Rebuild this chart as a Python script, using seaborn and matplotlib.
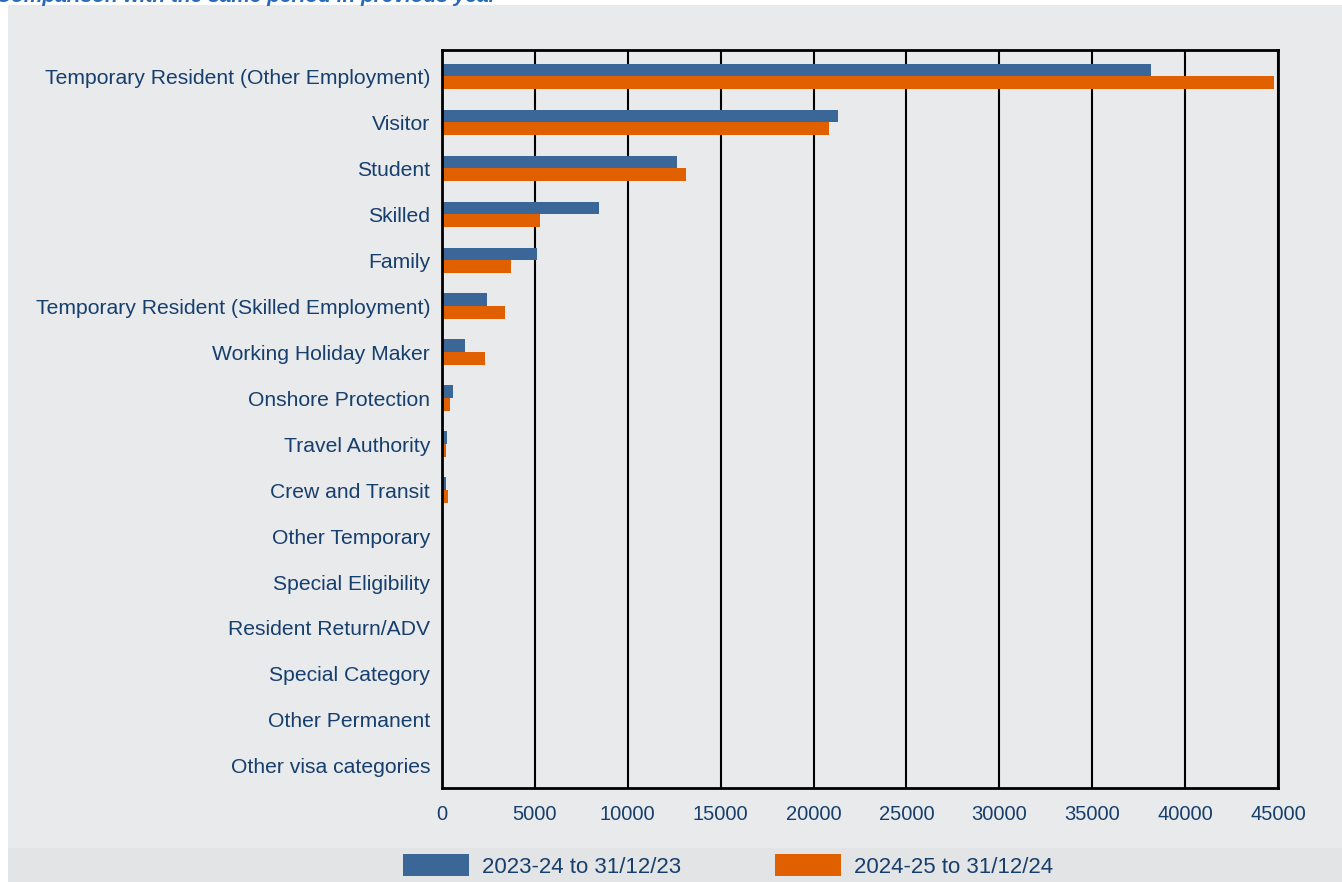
import matplotlib
matplotlib.use("Agg")
import matplotlib.pyplot as plt
from matplotlib.patches import Rectangle
import pandas as pd
import seaborn as sns

# Visa categories (top to bottom) and values
categories = [
    "Temporary Resident (Other Employment)",
    "Visitor",
    "Student",
    "Skilled",
    "Family",
    "Temporary Resident (Skilled Employment)",
    "Working Holiday Maker",
    "Onshore Protection",
    "Travel Authority",
    "Crew and Transit",
    "Other Temporary",
    "Special Eligibility",
    "Resident Return/ADV",
    "Special Category",
    "Other Permanent",
    "Other visa categories",
]
prev_year = [38150, 21300, 12660, 8440, 5130, 2420, 1250, 590, 270, 220, 60, 50, 30, 30, 20, 5]
curr_year = [44760, 20820, 13120, 5260, 3740, 3370, 2330, 450, 230, 320, 60, 50, 30, 30, 20, 5]
series_names = ["2023-24 to 31/12/23", "2024-25 to 31/12/24"]
x_ticks = [0, 5000, 10000, 15000, 20000, 25000, 30000, 35000, 40000, 45000]

BLUE = "#3a6698"
ORANGE = "#e06000"
NAVY = "#173f6d"
PANEL = "#e9eaec"
BAND = "#e3e4e6"

df = pd.DataFrame({
    "category": categories * 2,
    "value": prev_year + curr_year,
    "period": [series_names[0]] * len(categories) + [series_names[1]] * len(categories),
})

sns.set_theme(style="white")
plt.rcParams["font.family"] = ["Liberation Sans", "DejaVu Sans"]

W, H = 1342, 882
fig = plt.figure(figsize=(W / 100, H / 100), dpi=100)
fig.patch.set_facecolor("white")

# grey panel and legend band behind everything
fig.add_artist(Rectangle((8 / W, 0), 1 - 8 / W, 1 - 5 / H, transform=fig.transFigure,
                         facecolor=PANEL, edgecolor="none", zorder=-10))
fig.add_artist(Rectangle((8 / W, 0), 1 - 8 / W, 34 / H, transform=fig.transFigure,
                         facecolor=BAND, edgecolor="none", zorder=-9))

# title mostly cut off at the top edge, as in the source image
fig.text(-4 / W, 1 - 2 / H, "Comparison with the same period in previous year",
         color="#2a6ab8", fontsize=15, style="italic", fontweight="bold",
         ha="left", va="baseline")

ax = fig.add_axes([442 / W, 1 - 788 / H, (1278 - 442) / W, (788 - 50) / H])
ax.set_facecolor(PANEL)

sns.barplot(data=df, y="category", x="value", hue="period", order=categories,
            hue_order=series_names, palette=[BLUE, ORANGE], orient="h",
            width=0.56, dodge=True, saturation=1, gap=0.04,
            edgecolor="none", linewidth=0, legend=True, ax=ax, zorder=3)

ax.set_xlim(0, 45000)
ax.set_ylim(15.48, -0.57)
ax.set_xticks(x_ticks)
ax.set_xticklabels([str(t) for t in x_ticks])
ax.grid(axis="x", color="black", linewidth=1.5, zorder=0)
ax.grid(axis="y", visible=False)
ax.set_axisbelow(True)
ax.set_xlabel("")
ax.set_ylabel("")
for side in ax.spines.values():
    side.set_color("black")
    side.set_linewidth(2)
    side.set_zorder(5)
ax.tick_params(axis="y", length=0, pad=8.5, labelsize=15.2, labelcolor=NAVY)
ax.tick_params(axis="x", length=0, pad=12, labelsize=14.5, labelcolor=NAVY)

handles, labels = ax.get_legend_handles_labels()
ax.get_legend().remove()
fig.legend(handles, labels, loc="center", bbox_to_anchor=(728 / W, 16 / H),
           ncol=2, frameon=False, handlelength=2.97, handleheight=1.13,
           handletextpad=0.59, columnspacing=4.2,
           prop={"family": ["Liberation Sans Narrow", "Liberation Sans"], "size": 16},
           labelcolor=NAVY)

fig.savefig("out.png", dpi=100, facecolor=fig.get_facecolor())
